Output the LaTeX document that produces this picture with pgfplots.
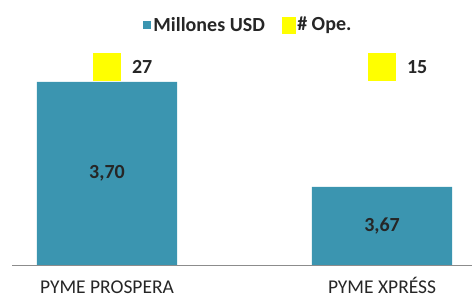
\documentclass[border=0pt]{standalone}
\usepackage{fontspec}
\setmainfont{Carlito}
\usepackage{pgfplots}
\pgfplotsset{compat=1.18}
\usepackage{pgfplotstable}
\definecolor{barblue}{RGB}{59,149,176}
\definecolor{opeyellow}{RGB}{255,255,0}
\pgfplotstableread{
x h lab
0 3.70 {3,70}
1 1.58 {3,67}
}\usd
\pgfplotstableread{
x y lab
0 4.00 27
1 4.00 15
}\ope
\begin{document}
\begin{tikzpicture}
\useasboundingbox (0,0) rectangle (472bp,299bp);
\begin{axis}[
  at={(12bp,34bp)}, anchor=south west,
  scale only axis, width=460bp, height=265bp,
  xmin=-0.3455, xmax=1.327, ymin=0, ymax=5.358,
  axis y line=none, axis x line*=bottom,
  x axis line style={draw=black!45, line width=1bp, -},
  xtick={0,1}, xticklabels={PYME PROSPERA, PYME XPRÉSS},
  major tick length=0pt, ytick=\empty,
  xticklabel style={font=\fontsize{19.5bp}{23bp}\selectfont, text=black!85,
    text height=13bp, text depth=0bp, inner sep=0pt, yshift=-15bp},
  legend style={at={(0.514,0.906)}, anchor=center, draw=none, fill=none,
    legend columns=-1, font=\fontsize{20bp}{24bp}\selectfont\bfseries, text=black!85,
    nodes={inner sep=2bp},
    /tikz/every even column/.append style={column sep=15bp}},
]
\addplot[ybar, bar shift=0pt, bar width=0.51, fill=barblue, draw=none,
  legend image code/.code={\fill[barblue] (0bp,-4bp) rectangle (8bp,4bp);}]
  table[x=x,y=h] {\usd};
\addlegendentry{Millones USD}
\addplot[color=opeyellow, only marks, mark=square*, mark size=13.5bp,
  mark options={fill=opeyellow, draw=opeyellow, line width=0pt},
  nodes near coords, point meta=explicit symbolic,
  every node near coord/.append style={anchor=west, inner sep=0pt, xshift=25bp,
    font=\fontsize{20bp}{24bp}\selectfont\bfseries, text=black!85},
  legend image code/.code={\fill[opeyellow] (0bp,-8bp) rectangle (13bp,8bp);}]
  table[x=x,y=y,meta=lab] {\ope};
\addlegendentry{\# Ope.}
\addplot[draw=none, forget plot, nodes near coords, point meta=explicit symbolic,
  every node near coord/.append style={anchor=center, inner sep=0pt,
    font=\fontsize{20bp}{24bp}\selectfont\bfseries, text=black!85}]
  table[x=x, y expr=\thisrow{h}/2, meta=lab] {\usd};
\end{axis}
\end{tikzpicture}
\end{document}
